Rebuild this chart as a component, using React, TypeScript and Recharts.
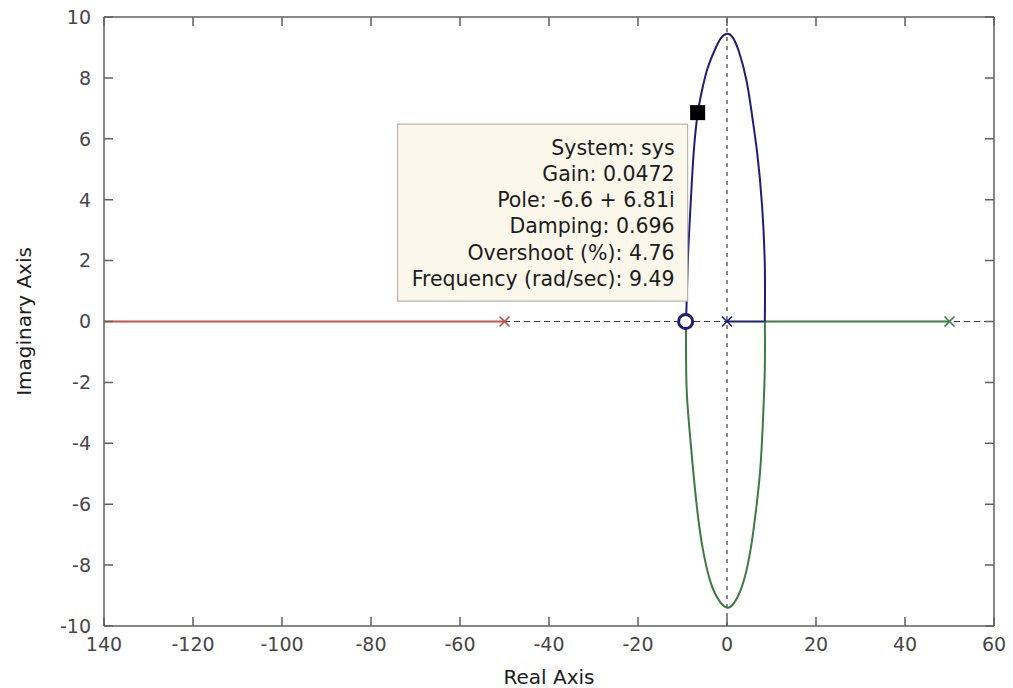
import { ComposedChart, Line, Scatter, XAxis, YAxis } from 'recharts';

// axis ticks and their printed labels
const X_TICKS = [-140, -120, -100, -80, -60, -40, -20, 0, 20, 40, 60];
const X_TICK_LABELS = ['140', '-120', '-100', '-80', '-60', '-40', '-20', '0', '20', '40', '60'];
const Y_TICKS = [-10, -8, -6, -4, -2, 0, 2, 4, 6, 8, 10];

// dotted real / imaginary axes through the origin
const realAxisLine = [{ x: -140, y: 0 }, { x: 60, y: 0 }];
const imagAxisLine = [{ x: 0, y: -10 }, { x: 0, y: 10 }];

// locus branches on the real axis
const redBranch = [{ x: -140, y: 0 }, { x: -50, y: 0 }];
const blueReal = [{ x: 0, y: 0 }, { x: 8.5, y: 0 }];
const greenReal = [{ x: 50, y: 0 }, { x: 8.5, y: 0 }];

// complex branches: breakaway at 8.5, break-in near the zero
const upperArc = [
  { x: 8.5, y: 0 }, { x: 8.5, y: 1.8 }, { x: 7.9, y: 3.77 },
  { x: 6.8, y: 5.52 }, { x: 5.7, y: 6.7 }, { x: 4.4, y: 7.9 },
  { x: 2.6, y: 8.9 }, { x: 1.2, y: 9.35 }, { x: 0, y: 9.45 },
  { x: -1.4, y: 9.3 }, { x: -2.8, y: 8.9 }, { x: -4.4, y: 8.3 }, { x: -5.6, y: 7.6 },
  { x: -6.6, y: 6.81 }, { x: -7.5, y: 5.52 }, { x: -8.2, y: 3.77 },
  { x: -8.8, y: 2.0 }, { x: -9.2, y: 0 },
];
const lowerArc = [
  { x: -9.2, y: 0 }, { x: -9.1, y: -2.1 }, { x: -8.4, y: -3.6 }, { x: -7.6, y: -4.9 },
  { x: -6.6, y: -6.3 }, { x: -5.4, y: -7.5 }, { x: -3.6, y: -8.6 }, { x: -1.6, y: -9.2 },
  { x: 0.2, y: -9.4 }, { x: 2.0, y: -9.15 }, { x: 3.8, y: -8.5 }, { x: 5.4, y: -7.4 },
  { x: 6.6, y: -6.1 }, { x: 7.5, y: -4.8 }, { x: 8.1, y: -3.2 }, { x: 8.5, y: -1.5 },
  { x: 8.5, y: 0 },
];

// open-loop poles and zero
const redPoles = [{ x: -50, y: 0 }];
const bluePoles = [{ x: 0, y: 0 }];
const greenPoles = [{ x: 50, y: 0 }];
const zeros = [{ x: -9.3, y: 0 }];

// data cursor
const cursorPoint = [{ x: -6.6, y: 6.81 }];
const cursorInfo = [
  'System: sys',
  'Gain: 0.0472',
  'Pole: -6.6 + 6.81i',
  'Damping: 0.696',
  'Overshoot (%): 4.76',
  'Frequency (rad/sec): 9.49',
];

const FONT = '"DejaVu Sans", sans-serif';
const AXIS = '#606060';
const TICK_TEXT = '#474747';
const RED = '#c8504c';
const GREEN = '#3c7a44';
const BLUE = '#1e1e78';

const WIDTH = 1013;
const HEIGHT = 688;
const MARGIN = { top: 16, right: 18, bottom: 0, left: 0 };
const LEFT_W = 104;
const BOTTOM_H = 62;
const PLOT_W = WIDTH - MARGIN.right - 1 - LEFT_W;
const PLOT_H = HEIGHT - MARGIN.top - 1 - BOTTOM_H;
const TICK_LEN = 9;

const axisLineStyle = { stroke: AXIS, strokeWidth: 1.5 };

const BottomLabel = (props: any) => (
  <text x={props.x} y={props.y} dy="0.72em" textAnchor="middle" fontFamily={FONT} fontSize={19} fill={TICK_TEXT}>
    {X_TICK_LABELS[props.index]}
  </text>
);

const LeftLabel = (props: any) => (
  <text x={props.x} y={props.y} dy="0.36em" textAnchor="end" fontFamily={FONT} fontSize={19} fill={TICK_TEXT}>
    {props.payload.value}
  </text>
);

// inward tick marks, top and bottom edge, placed from the top axis
const TopBottomTicks = (props: any) => {
  const { x, y } = props;
  const bottom = y + PLOT_H;
  return (
    <path
      d={`M${x},${y}V${y + TICK_LEN}M${x},${bottom}V${bottom - TICK_LEN}`}
      stroke={AXIS}
      strokeWidth={1.5}
    />
  );
};

// inward tick marks, right and left edge, placed from the right axis
const RightLeftTicks = (props: any) => {
  const { x, y } = props;
  const left = x - PLOT_W;
  return (
    <path
      d={`M${x},${y}H${x - TICK_LEN}M${left},${y}H${left + TICK_LEN}`}
      stroke={AXIS}
      strokeWidth={1.5}
    />
  );
};

const crossShape = (color: string) => (p: any) => (
  <path
    d={`M${p.cx - 5},${p.cy - 5}L${p.cx + 5},${p.cy + 5}M${p.cx - 5},${p.cy + 5}L${p.cx + 5},${p.cy - 5}`}
    stroke={color}
    strokeWidth={1.6}
    fill="none"
  />
);

const ZeroShape = (p: any) => (
  <circle cx={p.cx} cy={p.cy} r={7} stroke={BLUE} strokeWidth={3} fill="#fff" />
);

// black square on the locus plus the text box next to it
const CursorShape = (p: any) => {
  const { cx, cy } = p;
  return (
    <g>
      <rect x={cx - 7.5} y={cy - 9} width={15} height={15} fill="#000" />
      <rect x={cx - 300} y={cy + 10} width={290} height={177} fill="#fbf7eb" stroke="#b4b2aa" strokeWidth={1.2} />
      {cursorInfo.map((line, i) => (
        <text
          key={line}
          x={cx - 23}
          y={cy + 33 + i * 26.3}
          dy="0.36em"
          textAnchor="end"
          fontFamily={FONT}
          fontSize={20.5}
          fill="#1c1c1c"
        >
          {line}
        </text>
      ))}
    </g>
  );
};

export default function App() {
  return (
    <div style={{ position: 'absolute', left: 0, top: 0, background: '#fff' }}>
      <ComposedChart width={WIDTH} height={HEIGHT} margin={MARGIN}>
        <XAxis
          dataKey="x"
          type="number"
          domain={[-140, 60]}
          ticks={X_TICKS}
          interval={0}
          allowDataOverflow
          height={BOTTOM_H}
          tickSize={0}
          tickMargin={11}
          tickLine={false}
          tick={BottomLabel}
          axisLine={axisLineStyle}
          label={{ value: 'Real Axis', position: 'insideBottom', offset: 4, fontFamily: FONT, fontSize: 20, fill: '#1c1c1c' }}
        />
        <XAxis
          xAxisId="top"
          orientation="top"
          dataKey="x"
          type="number"
          domain={[-140, 60]}
          ticks={X_TICKS}
          interval={0}
          allowDataOverflow
          height={1}
          tickSize={0}
          tickMargin={0}
          tickLine={false}
          tick={TopBottomTicks}
          axisLine={axisLineStyle}
        />
        <YAxis
          dataKey="y"
          type="number"
          domain={[-10, 10]}
          ticks={Y_TICKS}
          interval={0}
          allowDataOverflow
          width={LEFT_W}
          tickSize={0}
          tickMargin={13}
          tickLine={false}
          tick={LeftLabel}
          axisLine={axisLineStyle}
          label={{
            value: 'Imaginary Axis',
            angle: -90,
            position: 'insideLeft',
            offset: 24,
            textAnchor: 'middle',
            fontFamily: FONT,
            fontSize: 20,
            fill: '#1c1c1c',
          }}
        />
        <YAxis
          yAxisId="right"
          orientation="right"
          dataKey="y"
          type="number"
          domain={[-10, 10]}
          ticks={Y_TICKS}
          interval={0}
          allowDataOverflow
          width={1}
          tickSize={0}
          tickMargin={0}
          tickLine={false}
          tick={RightLeftTicks}
          axisLine={axisLineStyle}
        />

        {/* invisible series so the top and right frame axes get drawn */}
        <Line data={realAxisLine} dataKey="y" xAxisId="top" yAxisId="right" stroke="none" dot={false} isAnimationActive={false} />

        <Line data={realAxisLine} dataKey="y" type="linear" stroke="#3a3a3a" strokeWidth={1.2} strokeDasharray="6 4" dot={false} isAnimationActive={false} />
        <Line data={imagAxisLine} dataKey="y" type="linear" stroke="#3a3a3a" strokeWidth={1.2} strokeDasharray="4 5" dot={false} isAnimationActive={false} />

        <Line data={redBranch} dataKey="y" type="linear" stroke={RED} strokeWidth={2} dot={false} isAnimationActive={false} />
        <Line data={greenReal} dataKey="y" type="linear" stroke={GREEN} strokeWidth={2} dot={false} isAnimationActive={false} />
        <Line data={blueReal} dataKey="y" type="linear" stroke={BLUE} strokeWidth={2} dot={false} isAnimationActive={false} />
        <Line data={lowerArc} dataKey="y" type="natural" stroke={GREEN} strokeWidth={2} dot={false} isAnimationActive={false} />
        <Line data={upperArc} dataKey="y" type="natural" stroke={BLUE} strokeWidth={2} dot={false} isAnimationActive={false} />

        <Scatter data={redPoles} dataKey="y" shape={crossShape(RED)} isAnimationActive={false} />
        <Scatter data={bluePoles} dataKey="y" shape={crossShape(BLUE)} isAnimationActive={false} />
        <Scatter data={greenPoles} dataKey="y" shape={crossShape(GREEN)} isAnimationActive={false} />
        <Scatter data={zeros} dataKey="y" shape={ZeroShape} isAnimationActive={false} />
        <Scatter data={cursorPoint} dataKey="y" shape={CursorShape} isAnimationActive={false} />
      </ComposedChart>
    </div>
  );
}
